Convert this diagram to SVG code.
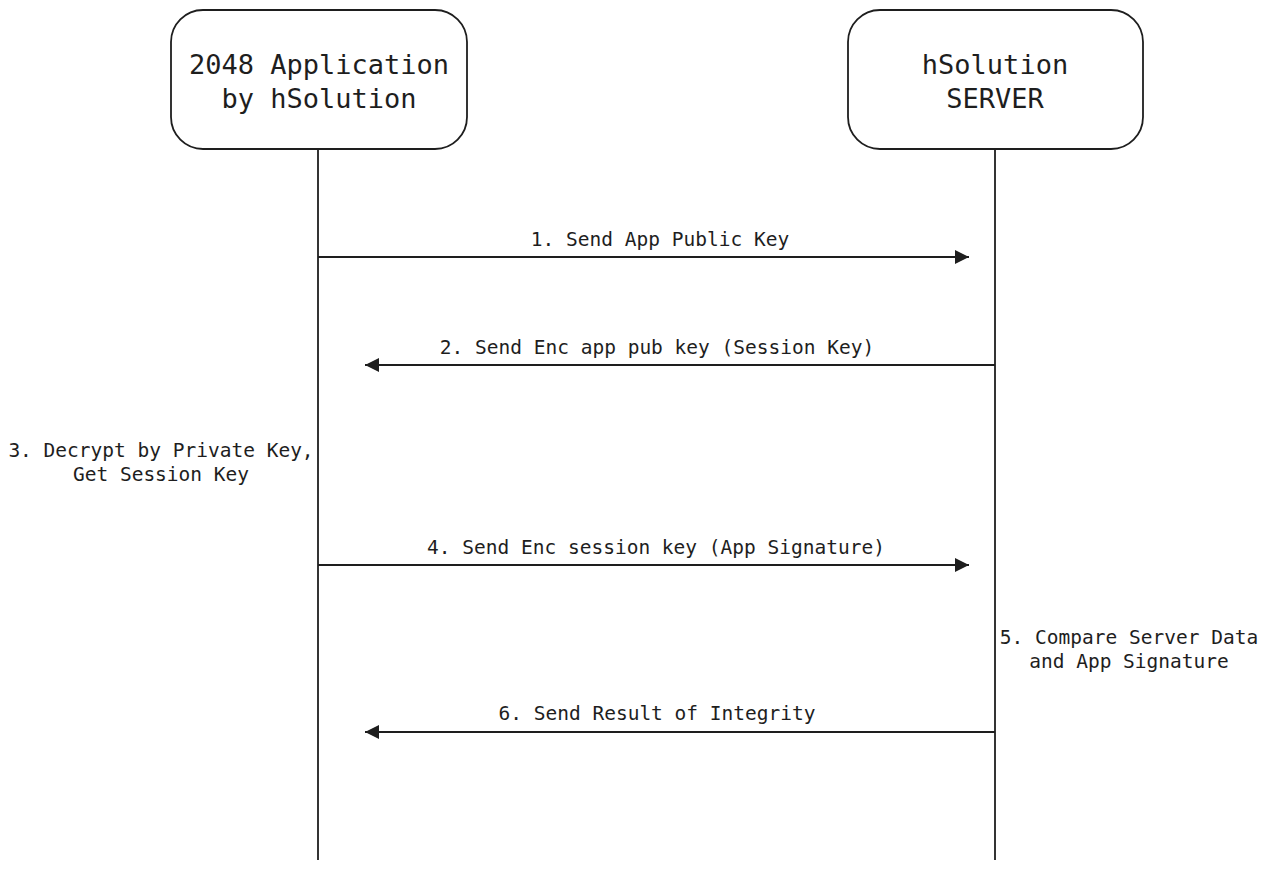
<svg xmlns="http://www.w3.org/2000/svg" width="1267" height="869" viewBox="0 0 1267 869">
<style>
.box{fill:#fff;stroke:#1e1e1e;stroke-width:1.8}
.life{stroke:#1e1e1e;stroke-width:1.8;fill:none}
.msg{stroke:#1e1e1e;stroke-width:1.8;fill:none}
.t{font-family:"DejaVu Sans Mono","Liberation Mono",monospace;fill:#1e1e1e;text-anchor:middle}
.big{font-size:27px}
.sm{font-size:19.5px}
</style>
<defs>
<marker id="ah" markerWidth="16" markerHeight="16" refX="14" refY="7" orient="auto" markerUnits="userSpaceOnUse">
<path d="M0,0 L14,7 L0,14 Z" fill="#1e1e1e"/>
</marker>
</defs>
<rect width="1267" height="869" fill="#fff"/>
<g id="connectors">
<line class="life" x1="318" y1="150" x2="318" y2="860"/>
<line class="life" x1="995" y1="150" x2="995" y2="860"/>
<line class="msg" x1="318" y1="257" x2="969" y2="257" marker-end="url(#ah)"/>
<line class="msg" x1="995" y1="365" x2="365" y2="365" marker-end="url(#ah)"/>
<line class="msg" x1="318" y1="565" x2="969" y2="565" marker-end="url(#ah)"/>
<line class="msg" x1="995" y1="732" x2="365" y2="732" marker-end="url(#ah)"/>
</g>
<g id="app">
<rect class="box" x="171" y="10" width="296" height="139" rx="32"/>
<text class="t big" x="319" y="74">2048 Application</text>
<text class="t big" x="319" y="108">by hSolution</text>
</g>
<g id="server">
<rect class="box" x="848" y="10" width="295" height="139" rx="32"/>
<text class="t big" x="995" y="74">hSolution</text>
<text class="t big" x="995" y="108">SERVER</text>
</g>
<g id="labels">
<text class="t sm" x="660" y="246">1. Send App Public Key</text>
<text class="t sm" x="657" y="354">2. Send Enc app pub key (Session Key)</text>
<text class="t sm" x="161" y="457">3. Decrypt by Private Key,</text>
<text class="t sm" x="161" y="481">Get Session Key</text>
<text class="t sm" x="656" y="554">4. Send Enc session key (App Signature)</text>
<text class="t sm" x="1129" y="644">5. Compare Server Data</text>
<text class="t sm" x="1129" y="668">and App Signature</text>
<text class="t sm" x="657" y="720">6. Send Result of Integrity</text>
</g>
</svg>
